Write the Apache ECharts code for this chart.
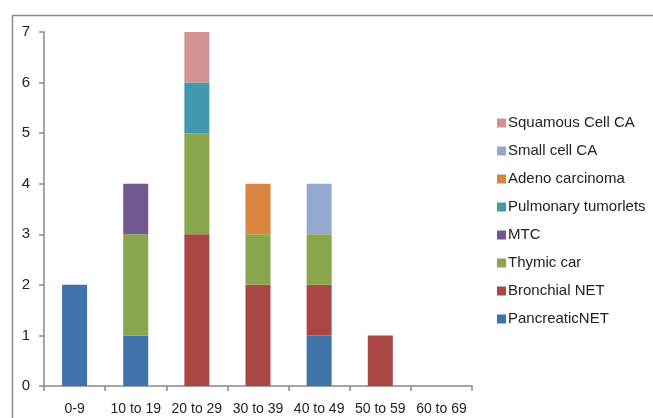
<!DOCTYPE html>
<html>
<head>
<meta charset="utf-8">
<script src="https://cdn.jsdelivr.net/npm/echarts@6/dist/echarts.min.js"></script>
<style>
  html, body { margin: 0; padding: 0; background: #fff; }
  #chart { width: 653px; height: 418px; }
</style>
</head>
<body>
<div id="chart"></div>
<script>
// Age groups on the x axis
const ageGroups = ['0-9', '10 to 19', '20 to 29', '30 to 39', '40 to 49', '50 to 59', '60 to 69'];

// Case counts per tumour type, one value per age group (stacked bottom to top)
const pancreaticNET      = [2, 1, 0, 0, 1, 0, 0];
const bronchialNET       = [0, 0, 3, 2, 1, 1, 0];
const thymicCar          = [0, 2, 2, 1, 1, 0, 0];
const mtc                = [0, 1, 0, 0, 0, 0, 0];
const pulmonaryTumorlets = [0, 0, 1, 0, 0, 0, 0];
const adenoCarcinoma     = [0, 0, 0, 1, 0, 0, 0];
const smallCellCA        = [0, 0, 0, 0, 1, 0, 0];
const squamousCellCA     = [0, 0, 1, 0, 0, 0, 0];

const yTicks = [0, 1, 2, 3, 4, 5, 6, 7];

const seriesDefs = [
  { name: 'PancreaticNET',       data: pancreaticNET,      color: '#4073A9' },
  { name: 'Bronchial NET',       data: bronchialNET,       color: '#AA4644' },
  { name: 'Thymic car',          data: thymicCar,          color: '#8AA64D' },
  { name: 'MTC',                 data: mtc,                color: '#71588F' },
  { name: 'Pulmonary tumorlets', data: pulmonaryTumorlets, color: '#4298AF' },
  { name: 'Adeno carcinoma',     data: adenoCarcinoma,     color: '#DB843D' },
  { name: 'Small cell CA',       data: smallCellCA,        color: '#93A9CF' },
  { name: 'Squamous Cell CA',    data: squamousCellCA,     color: '#D09392' }
];

const chart = echarts.init(document.getElementById('chart'), null, { renderer: 'canvas' });

const fontFamily = 'Liberation Sans, Arial, sans-serif';

chart.setOption({
  animation: false,
  textStyle: { fontFamily: fontFamily, color: '#222' },
  graphic: [{
    type: 'rect',
    shape: { x: 12.5, y: 15.5, width: 700, height: 500 },
    style: { fill: 'none', stroke: '#8a8a8a', lineWidth: 1.5 },
    silent: true
  }],
  grid: { left: 44, top: 32, right: 181, bottom: 32, containLabel: false },
  legend: {
    orient: 'vertical',
    left: 497,
    top: 115,
    padding: 0,
    itemWidth: 9,
    itemHeight: 9,
    itemGap: 12,
    icon: 'rect',
    textStyle: { fontFamily: fontFamily, fontSize: 15, lineHeight: 16, color: '#222', padding: [0, 0, 0, -3] },
    data: seriesDefs.map(s => s.name).reverse()
  },
  xAxis: {
    type: 'category',
    data: ageGroups,
    axisLine: { lineStyle: { color: '#888', width: 1.5 } },
    axisTick: { show: true, length: 5, lineStyle: { color: '#888', width: 1.5 } },
    axisLabel: { margin: 16, color: '#222', fontSize: 14, fontFamily: fontFamily, interval: 0 }
  },
  yAxis: {
    type: 'value',
    min: yTicks[0],
    max: yTicks[yTicks.length - 1],
    interval: 1,
    splitLine: { show: false },
    axisLine: { show: true, lineStyle: { color: '#888', width: 1.5 } },
    axisTick: { show: true, length: 5, lineStyle: { color: '#888', width: 1.5 } },
    axisLabel: { margin: 14, color: '#222', fontSize: 15, fontFamily: fontFamily }
  },
  series: seriesDefs.map(s => ({
    name: s.name,
    type: 'bar',
    stack: 'cases',
    barWidth: 25,
    itemStyle: { color: s.color },
    data: s.data
  }))
});
</script>
</body>
</html>
